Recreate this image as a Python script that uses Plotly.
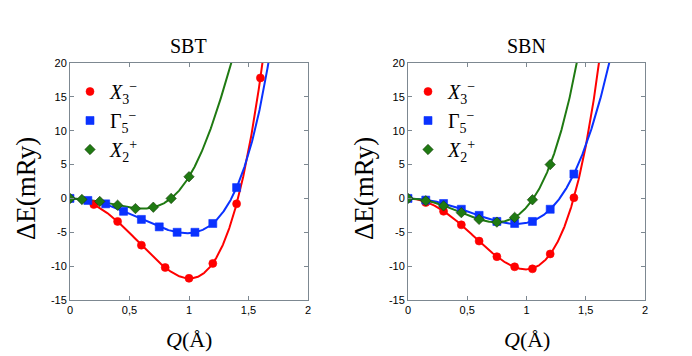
import numpy as np
import plotly.graph_objects as go

# SBT data
sbt_q_x3 = [0, 0.2, 0.4, 0.6, 0.8, 1.0, 1.2, 1.4, 1.6]
sbt_e_x3 = [0, -0.9, -3.4, -6.9, -10.2, -11.8, -9.6, -0.8, 17.8]
sbt_q_g5 = [0, 0.15, 0.3, 0.45, 0.6, 0.75, 0.9, 1.05, 1.2, 1.4]
sbt_e_g5 = [0, -0.3, -0.8, -1.9, -3.1, -4.2, -5.0, -5.0, -3.7, 1.6]
sbt_q_x2 = [0, 0.1, 0.25, 0.4, 0.55, 0.7, 0.85, 1.0]
sbt_e_x2 = [0, -0.15, -0.45, -1.0, -1.5, -1.3, 0.0, 3.2]

# SBN data
sbn_q_x3 = [0, 0.15, 0.3, 0.45, 0.6, 0.75, 0.9, 1.05, 1.2, 1.4]
sbn_e_x3 = [0, -0.6, -1.9, -3.9, -6.3, -8.6, -10.1, -10.4, -8.2, 0.1]
sbn_q_g5 = [0, 0.15, 0.3, 0.45, 0.6, 0.75, 0.9, 1.05, 1.2, 1.4]
sbn_e_g5 = [0, -0.25, -0.75, -1.6, -2.5, -3.4, -3.7, -3.4, -1.6, 3.6]
sbn_q_x2 = [0, 0.15, 0.3, 0.45, 0.6, 0.75, 0.9, 1.05, 1.2]
sbn_e_x2 = [0, -0.35, -1.1, -2.1, -3.1, -3.5, -2.8, -0.2, 5.0]

titles = ["SBT", "SBN"]
x_ticks = [0, 0.5, 1, 1.5, 2]
x_labels = ["0", "0,5", "1", "1,5", "2"]
y_ticks = [-15, -10, -5, 0, 5, 10, 15, 20]
y_labels = ["-15", "-10", "-5", "0", "5", "10", "15", "20"]

names = ["<i>X</i><sub>3</sub><sup>−</sup>",
         "Γ<sub>5</sub><sup>−</sup>",
         "<i>X</i><sub>2</sub><sup>+</sup>"]
colors = ["#ff0000", "#0a32ff", "#1f7a12"]
symbols = ["circle", "square", "diamond"]

# the page body has an 8px margin, so the figure is drawn 8px in from the window edge
OFF = 8
W, H = 692 - OFF, 356 - OFF


def px(x):
    return (x - OFF) / W


def py(y):
    return 1 - (y - OFF) / H


def even_fit(q, e, powers):
    # least-squares fit E = sum a_n Q^n (even powers), evaluated until it leaves the top of the plot
    q = np.array(q, float)
    A = np.column_stack([q ** p for p in powers])
    coef = np.linalg.lstsq(A, np.array(e, float), rcond=None)[0]
    qq = np.linspace(0, 2, 600)
    ee = np.column_stack([qq ** p for p in powers]) @ coef
    over = np.nonzero((ee > 21) & (qq > q.max()))[0]
    if len(over):
        qq, ee = qq[:over[0] + 1], ee[:over[0] + 1]
    return qq, ee


fig = go.Figure()
panels = [
    [(sbt_q_x3, sbt_e_x3), (sbt_q_g5, sbt_e_g5), (sbt_q_x2, sbt_e_x2)],
    [(sbn_q_x3, sbn_e_x3), (sbn_q_g5, sbn_e_g5), (sbn_q_x2, sbn_e_x2)],
]
for i, panel in enumerate(panels):
    xa = "x" if i == 0 else "x2"
    ya = "y" if i == 0 else "y2"
    lg = "legend" if i == 0 else "legend2"
    for j, (q, e) in enumerate(panel):
        qq, ee = even_fit(q, e, [2, 4, 6, 8])
        fig.add_trace(go.Scatter(x=qq, y=ee, mode="lines", xaxis=xa, yaxis=ya,
                                 line=dict(color=colors[j], width=2),
                                 showlegend=False, hoverinfo="skip"))
    for j, (q, e) in enumerate(panel):
        fig.add_trace(go.Scatter(x=q, y=e, mode="markers", name=names[j],
                                 xaxis=xa, yaxis=ya, legend=lg,
                                 marker=dict(color=colors[j], symbol=symbols[j], size=8,
                                             line=dict(width=0.6, color="#173a0c" if j == 2 else colors[j]))))

axis_style = dict(showline=True, linecolor="#7d8891", linewidth=1, mirror="allticks",
                  ticks="inside", ticklen=4, tickcolor="#7d8891", showgrid=False,
                  zeroline=False, automargin=False,
                  tickfont=dict(family="Liberation Sans", size=11, color="black"))

doms = [[px(70), px(308)], [px(408), px(645)]]
ydom = [py(300), py(63)]
for i in range(2):
    sfx = "" if i == 0 else "2"
    fig.layout["xaxis" + sfx] = dict(domain=doms[i], range=[0, 2], tickvals=x_ticks,
                                     ticktext=x_labels, anchor="y" + sfx, **axis_style)
    fig.layout["yaxis" + sfx] = dict(domain=ydom, range=[-15, 20], tickvals=y_ticks,
                                     ticktext=y_labels, anchor="x" + sfx, **axis_style)
    cx = (doms[i][0] + doms[i][1]) / 2
    left = [70, 408][i]
    fig.add_annotation(text=titles[i], x=cx, y=py(46), xref="paper", yref="paper",
                       xanchor="center", yanchor="middle", showarrow=False,
                       font=dict(family="Liberation Serif", size=20, color="black"))
    fig.add_annotation(text="<i>Q</i>(Å)", x=cx, y=py(339), xref="paper", yref="paper",
                       xanchor="center", yanchor="middle", showarrow=False,
                       font=dict(family="Liberation Serif", size=22, color="black"))
    fig.add_annotation(text="ΔE(mRy)", x=px(left - 44), y=py(189),
                       xref="paper", yref="paper", textangle=-90, showarrow=False,
                       xanchor="center", yanchor="middle",
                       font=dict(family="Liberation Serif", size=27, color="black"))

leg_style = dict(bgcolor="rgba(0,0,0,0)", font=dict(family="Liberation Serif", size=20, color="black"),
                 xanchor="left", yanchor="top", tracegroupgap=0)
fig.update_layout(
    width=W, height=H, margin=dict(l=0, r=0, t=0, b=0, autoexpand=False),
    plot_bgcolor="white", paper_bgcolor="white",
    legend=dict(x=px(70), y=py(72), **leg_style),
    legend2=dict(x=px(408), y=py(72), **leg_style),
)

fig.write_html("out.html")
